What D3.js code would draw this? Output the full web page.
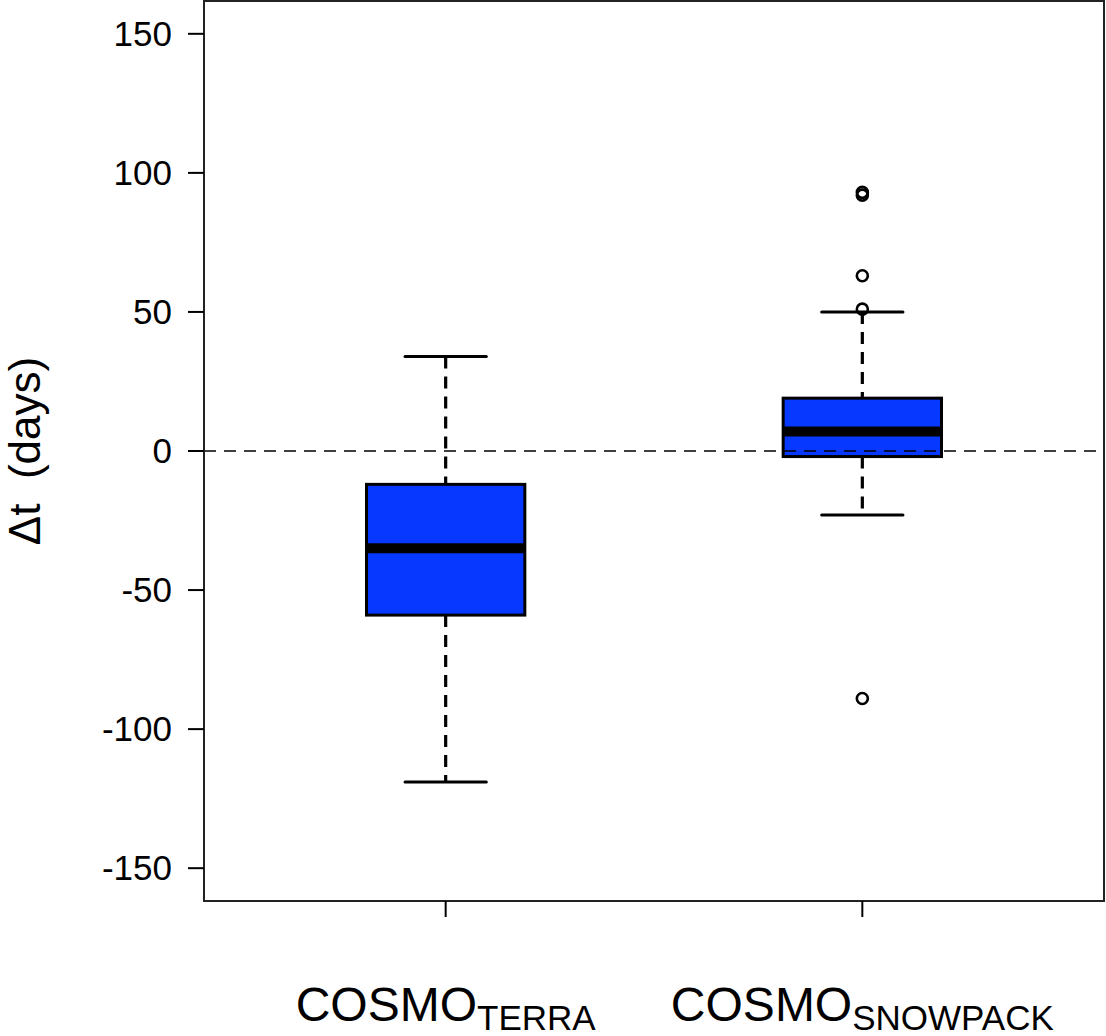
<!doctype html>
<html>
<head>
<meta charset="utf-8">
<script src="https://d3js.org/d3.v7.min.js"></script>
<style>
body { margin: 0; background: white; }
text { font-family: "Liberation Sans", Arial, sans-serif; fill: black; }
</style>
</head>
<body>
<svg id="chart" width="1106" height="1036"></svg>
<script>
// data
var groups = ["COSMO", "COSMO"];
var subs = ["TERRA", "SNOWPACK"];
var whiskLow = [-119, -23];
var q1 = [-59, -2];
var median = [-35, 7];
var q3 = [-12, 19];
var whiskHigh = [34, 50];
var outliers = [[], [93, 92, 63, 51, -89]];
var yTicks = [-150, -100, -50, 0, 50, 100, 150];

var svg = d3.select("#chart");
var pL = 204, pR = 1104, pT = 1, pB = 901;

var x = d3.scaleLinear().domain([0.42, 2.58]).range([pL, pR]);
var y = d3.scaleLinear().domain([-161.8, 161.8]).range([pB, pT]);

var boxW = 0.38, capW = 0.195;

var g = svg.append("g");
groups.forEach(function(name, i) {
  var cx = x(i + 1);
  // whiskers
  [[whiskHigh[i], q3[i]], [q1[i], whiskLow[i]]].forEach(function(w) {
    g.append("line")
      .attr("x1", cx).attr("x2", cx)
      .attr("y1", y(w[0])).attr("y2", y(w[1]))
      .style("stroke", "black").style("stroke-width", 3.2)
      .style("stroke-dasharray", "12 8");
  });
  // caps
  [whiskHigh[i], whiskLow[i]].forEach(function(v) {
    g.append("line")
      .attr("x1", x(i + 1 - capW / 2)).attr("x2", x(i + 1 + capW / 2))
      .attr("y1", y(v)).attr("y2", y(v))
      .style("stroke", "black").style("stroke-width", 3)
      .style("stroke-linecap", "round");
  });
  // box
  g.append("rect")
    .attr("x", x(i + 1 - boxW / 2))
    .attr("y", y(q3[i]))
    .attr("width", x(i + 1 + boxW / 2) - x(i + 1 - boxW / 2))
    .attr("height", y(q1[i]) - y(q3[i]))
    .style("fill", "#0638ff")
    .style("stroke", "black").style("stroke-width", 3);
  // median
  g.append("line")
    .attr("x1", x(i + 1 - boxW / 2)).attr("x2", x(i + 1 + boxW / 2))
    .attr("y1", y(median[i])).attr("y2", y(median[i]))
    .style("stroke", "black").style("stroke-width", 10);
  // outliers
  g.selectAll(null).data(outliers[i]).enter().append("circle")
    .attr("cx", cx).attr("cy", function(d) { return y(d); })
    .attr("r", 5.5)
    .style("fill", "none").style("stroke", "black").style("stroke-width", 2.6);
});

// zero reference line, drawn over the boxes
svg.append("line")
  .attr("x1", pL).attr("x2", pR)
  .attr("y1", y(0)).attr("y2", y(0))
  .style("stroke", "black").style("stroke-width", 1.6)
  .style("stroke-dasharray", "12 8");

// frame
svg.append("rect")
  .attr("x", pL).attr("y", pT)
  .attr("width", pR - pL).attr("height", pB - pT)
  .style("fill", "none").style("stroke", "#222").style("stroke-width", 2);

// y axis
var yAxis = svg.append("g");
yTicks.forEach(function(t) {
  yAxis.append("line")
    .attr("x1", pL - 16).attr("x2", pL)
    .attr("y1", y(t)).attr("y2", y(t))
    .style("stroke", "black").style("stroke-width", 2);
  yAxis.append("text")
    .attr("x", pL - 32).attr("y", y(t))
    .attr("text-anchor", "end")
    .attr("dy", "0.35em")
    .style("font-size", "35px")
    .text(t);
});

// x axis
groups.forEach(function(name, i) {
  svg.append("line")
    .attr("x1", x(i + 1)).attr("x2", x(i + 1))
    .attr("y1", pB).attr("y2", pB + 16)
    .style("stroke", "black").style("stroke-width", 2);
  var t = svg.append("text")
    .attr("x", x(i + 1)).attr("y", 1021)
    .attr("text-anchor", "middle");
  t.append("tspan").style("font-size", "48px").text(name);
  t.append("tspan").style("font-size", "35px").attr("dy", 9).text(subs[i]);
});

// y label
svg.append("text")
  .attr("transform", "translate(40," + y(0) + ") rotate(-90)")
  .attr("text-anchor", "middle")
  .style("font-size", "44px")
  .style("white-space", "pre")
  .text("\u0394t  (days)");
</script>
</body>
</html>
